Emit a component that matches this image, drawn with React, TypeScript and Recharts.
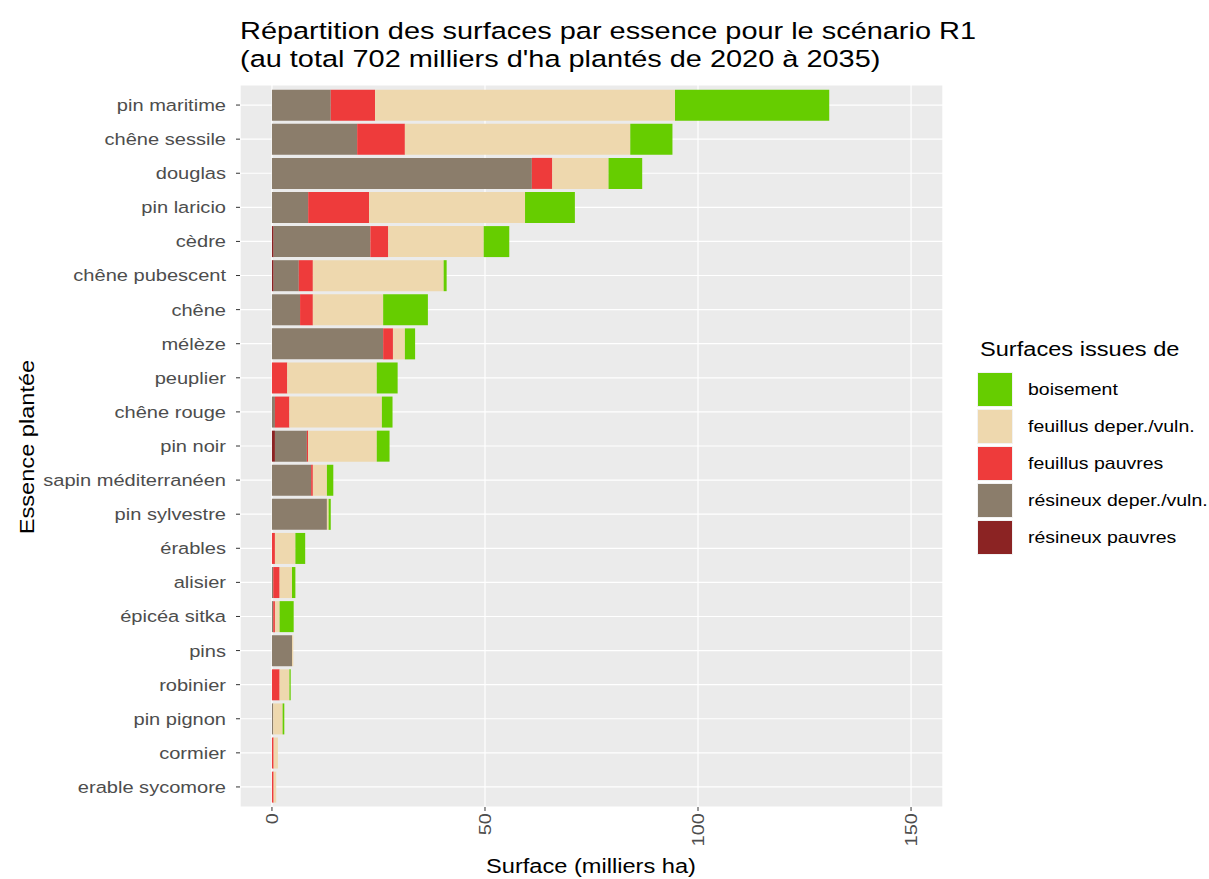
import React from "react";
import { Bar, BarChart, CartesianGrid, XAxis, YAxis } from "recharts";

const categories = [
  "pin maritime",
  "chêne sessile",
  "douglas",
  "pin laricio",
  "cèdre",
  "chêne pubescent",
  "chêne",
  "mélèze",
  "peuplier",
  "chêne rouge",
  "pin noir",
  "sapin méditerranéen",
  "pin sylvestre",
  "érables",
  "alisier",
  "épicéa sitka",
  "pins",
  "robinier",
  "pin pignon",
  "cormier",
  "erable sycomore",
];

const resineuxPauvres = [0, 0, 0, 0, 0.4, 0.4, 0, 0, 0, 0, 0.7, 0, 0, 0, 0, 0, 0, 0, 0, 0, 0];
const resineuxDeper = [13.8, 20.0, 61.0, 8.5, 22.7, 5.9, 6.6, 26.1, 0, 0.7, 7.5, 9.2, 12.9, 0, 0.3, 0.3, 4.7, 0, 0.3, 0, 0];
const feuillusPauvres = [10.4, 11.2, 4.8, 14.3, 4.2, 3.3, 3.0, 2.3, 3.6, 3.4, 0.3, 0.4, 0, 0.7, 1.5, 0.4, 0, 1.8, 0, 0.4, 0.4];
const feuillusDeper = [70.4, 52.9, 13.2, 36.6, 22.4, 30.7, 16.5, 2.8, 21.0, 21.7, 16.1, 3.3, 0.4, 4.8, 2.9, 1.1, 0.3, 2.3, 2.2, 1.0, 0.6];
const boisement = [36.2, 9.9, 7.9, 11.7, 6.0, 0.7, 10.5, 2.4, 4.9, 2.5, 3.0, 1.5, 0.5, 2.3, 0.8, 3.3, 0, 0.3, 0.4, 0, 0];

const xTicks = [0, 50, 100, 150];
const xMinorTicks = [25, 75, 125];

// stacking order left to right
const series = [
  { key: "rp", name: "résineux pauvres", color: "#8B2323", values: resineuxPauvres },
  { key: "rd", name: "résineux deper./vuln.", color: "#8B7D6B", values: resineuxDeper },
  { key: "fp", name: "feuillus pauvres", color: "#EE3B3B", values: feuillusPauvres },
  { key: "fd", name: "feuillus deper./vuln.", color: "#EED8AE", values: feuillusDeper },
  { key: "b", name: "boisement", color: "#66CD00", values: boisement },
];

const data = categories.map((name, i) => {
  const row: Record<string, number | string> = { name };
  series.forEach((s) => {
    row[s.key] = s.values[i];
  });
  return row;
});

const FONT = '"Liberation Sans", Arial, sans-serif';
const STRETCH = 1.18;

const YTick = (props: any) => {
  const { x, y, payload } = props;
  return (
    <text
      transform={`translate(${x},${y}) scale(${STRETCH},1)`}
      textAnchor="end"
      dy="0.35em"
      fontSize={17}
      fill="#4D4D4D"
      fontFamily={FONT}
    >
      {payload.value}
    </text>
  );
};

const XTick = (props: any) => {
  const { x, y, payload } = props;
  return (
    <text
      transform={`translate(${x},${y}) rotate(-90) scale(${STRETCH},1)`}
      textAnchor="end"
      dy="0.35em"
      fontSize={17}
      fill="#4D4D4D"
      fontFamily={FONT}
    >
      {payload.value}
    </text>
  );
};

export default function App() {
  const legendItems = [...series].reverse();
  return (
    <div style={{ position: "absolute", left: 0, top: 0, width: 1209, height: 879, background: "#fff", fontFamily: FONT }}>
      <BarChart
        width={1209}
        height={879}
        data={data}
        layout="vertical"
        margin={{ top: 85, right: 266, bottom: 0, left: 0 }}
        barCategoryGap="5%"
      >
        <CartesianGrid fill="#EBEBEB" stroke="#FFFFFF" strokeWidth={1.2} />
        <CartesianGrid xAxisId="minor" horizontal={false} stroke="#FFFFFF" strokeWidth={0.6} />
        <XAxis
          type="number"
          domain={[-7.5, 157.5]}
          ticks={xTicks}
          height={72}
          axisLine={false}
          tickSize={4}
          tickMargin={2}
          tickLine={{ stroke: "#333333" }}
          tick={<XTick />}
          interval={0}
        />
        <XAxis xAxisId="minor" type="number" domain={[-7.5, 157.5]} ticks={xMinorTicks} hide />
        <YAxis
          type="category"
          dataKey="name"
          width={240}
          axisLine={false}
          tickSize={4}
          tickMargin={10}
          tickLine={{ stroke: "#333333" }}
          tick={<YTick />}
          interval={0}
          padding={{ top: 3, bottom: 3 }}
        />
        {series.map((s) => (
          <Bar key={s.key} dataKey={s.key} name={s.name} stackId="a" fill={s.color} isAnimationActive={false} />
        ))}
      </BarChart>

      <div
        style={{
          position: "absolute",
          left: 240,
          top: 17,
          fontSize: 24.5,
          lineHeight: "28px",
          color: "#000",
          transform: `scaleX(${STRETCH})`,
          transformOrigin: "left center",
          whiteSpace: "nowrap",
        }}
      >
        <div>Répartition des surfaces par essence pour le scénario R1</div>
        <div>(au total 702 milliers d'ha plantés de 2020 à 2035)</div>
      </div>

      <div
        style={{
          position: "absolute",
          left: 591,
          top: 866,
          fontSize: 20,
          lineHeight: "22px",
          whiteSpace: "nowrap",
          transform: `translate(-50%,-50%) scaleX(${STRETCH})`,
        }}
      >
        Surface (milliers ha)
      </div>

      <div
        style={{
          position: "absolute",
          left: 27,
          top: 447,
          fontSize: 20,
          lineHeight: "22px",
          whiteSpace: "nowrap",
          transform: `translate(-50%,-50%) rotate(-90deg) scaleX(${STRETCH})`,
        }}
      >
        Essence plantée
      </div>

      <div style={{ position: "absolute", left: 980, top: 337 }}>
        <div
          style={{
            fontSize: 20,
            lineHeight: "24px",
            whiteSpace: "nowrap",
            transform: `scaleX(${STRETCH})`,
            transformOrigin: "left center",
          }}
        >
          Surfaces issues de
        </div>
      </div>
      <div style={{ position: "absolute", left: 977, top: 371 }}>
        {legendItems.map((s) => (
          <div key={s.key} style={{ display: "flex", alignItems: "center", height: 37 }}>
            <div style={{ width: 36, height: 35, background: "#F2F2F2", padding: 1, boxSizing: "border-box" }}>
              <div style={{ width: "100%", height: "100%", background: s.color }} />
            </div>
            <div
              style={{
                marginLeft: 15,
                fontSize: 16.5,
                whiteSpace: "nowrap",
                transform: `scaleX(${STRETCH})`,
                transformOrigin: "left center",
              }}
            >
              {s.name}
            </div>
          </div>
        ))}
      </div>
    </div>
  );
}
